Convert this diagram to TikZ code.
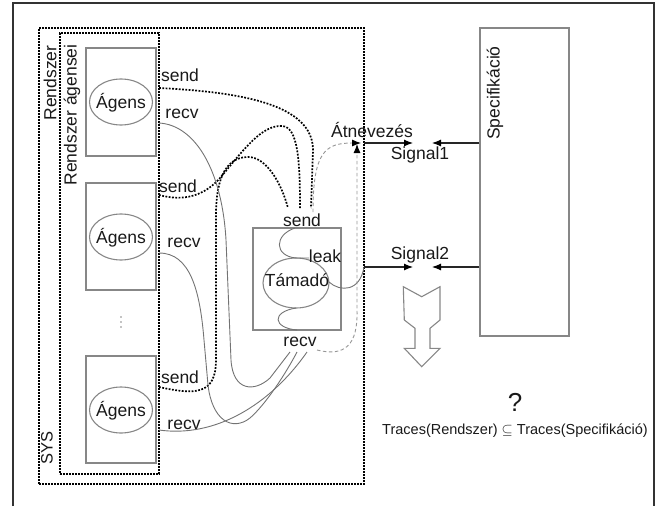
\documentclass[tikz,border=0pt]{standalone}
\usepackage{fontspec}
\setmainfont{Liberation Sans}
\usetikzlibrary{arrows.meta,shapes.geometric}
\definecolor{boxgray}{RGB}{135,135,135}
\definecolor{linegray}{RGB}{115,115,115}
\definecolor{dashgray}{RGB}{150,150,150}
\definecolor{txt}{RGB}{25,25,25}
\begin{document}
\begin{tikzpicture}[x=1pt,y=-1pt,
  lbl/.style={font=\fontsize{17.5}{20}\selectfont, text=txt, inner sep=0pt},
  gbox/.style={draw=boxgray, line width=1.1pt, inner sep=0pt},
  gell/.style={ellipse, draw=boxgray, line width=1.1pt, inner sep=0pt},
  dotbound/.style={draw=black, line width=1.1pt, dash pattern=on 1.6pt off 1.4pt},
  sendline/.style={draw=black, line width=1.7pt, dash pattern=on 1.8pt off 1.5pt},
  recvline/.style={draw=linegray, line width=0.9pt},
  dashline/.style={draw=dashgray, line width=0.9pt, dash pattern=on 3.5pt off 2.5pt},
  tip/.style={-{Latex[length=9pt,width=7pt,color=black]}},
  sigline/.style={draw=black!85, line width=1.1pt},
  dotmark/.style={circle, fill=boxgray, inner sep=0pt, minimum size=1.6pt}]
\useasboundingbox (0,0) rectangle (663,506);
% outer frame
\draw[black!80, line width=1.2pt] (13,506) -- (13,3) -- (654,3) -- (654,506);
% boundaries
\node[dotbound, minimum width=325pt, minimum height=456pt, inner sep=0pt] (sys) at (201.5,256) {};
\node[dotbound, minimum width=99pt, minimum height=441pt, inner sep=0pt] (ag) at (109.5,253.5) {};
\node[lbl, rotate=90] (lrend) at (50,83) {Rendszer};
\node[lbl, rotate=90] (lag) at (72,115) {Rendszer ágensei};
\node[lbl, rotate=90, font=\fontsize{16.5}{19}\selectfont] (lsys) at (47,448) {SYS};
% agents
\node[gbox, minimum width=70pt, minimum height=108pt] (a1) at (121,102) {};
\node[gbox, minimum width=70pt, minimum height=107pt] (a2) at (121,236.5) {};
\node[gbox, minimum width=70pt, minimum height=107pt] (a3) at (121,409.5) {};
\node[gell, minimum width=63pt, minimum height=46pt] (e1) at (121,102) {};
\node[gell, minimum width=63pt, minimum height=46pt] (e2) at (121,237) {};
\node[gell, minimum width=63pt, minimum height=46pt] (e3) at (121,410) {};
\node[lbl] (t1) at (121,103) {Ágens};
\node[lbl] (t2) at (121,238) {Ágens};
\node[lbl] (t3) at (121,411) {Ágens};
\node[dotmark] (d1) at (121,317) {};
\node[dotmark] (d2) at (121,322) {};
\node[dotmark] (d3) at (121,327) {};
% agent port labels
\node[lbl] (s1) at (180,75) {send};
\node[lbl] (r1) at (182,114) {recv};
\node[lbl] (s2) at (178,186) {send};
\node[lbl] (r2) at (184,243) {recv};
\node[lbl] (s3) at (180,377) {send};
\node[lbl] (r3) at (184,425) {recv};
% attacker
\node[gbox, minimum width=88pt, minimum height=102pt] (tam) at (297,279) {};
\node[gell, minimum width=66pt, minimum height=50pt] (te) at (296,283) {};
\node[lbl] (tt) at (297,280) {Támadó};
\node[lbl] (ts) at (302,220) {send};
\node[lbl] (tr) at (300,342) {recv};
\node[lbl] (tl) at (325,256) {leak};
\draw[linegray, line width=0.9pt] (295,228) .. controls (274,235) and (274,256) .. (296,258) -- (309,258);
\draw[linegray, line width=0.9pt] (296,308) .. controls (271,312) and (273,328) .. (297,330);
% specification
\node[gbox, minimum width=89pt, minimum height=308pt] (spec) at (524.5,182) {};
\node[lbl, rotate=90] (lspec) at (495,93) {Specifikáció};
% coordinates of connector ends
\coordinate (s1o) at (159,88);
\coordinate (s2o) at (159,195);
\coordinate (s3o) at (159,387);
\coordinate (r1o) at (159,123);
\coordinate (r2o) at (159,253);
\coordinate (r3o) at (159,430);
\coordinate (ts1) at (311,208);
\coordinate (ts2) at (300,208);
\coordinate (ts3) at (288,208);
\coordinate (tr1) at (290,352);
\coordinate (tr2) at (297,352);
\coordinate (tr3) at (307,352);
\coordinate (sig1o) at (364,143);
\coordinate (sig2o) at (364,267);
\coordinate (sig1a) at (413,143);
\coordinate (sig1b) at (432,143);
\coordinate (sig2a) at (413,267);
\coordinate (sig2b) at (432,267);
\coordinate (ren1) at (361,143);
\coordinate (ren2) at (357,144);
\coordinate (leako) at (329,282);
\coordinate (dsend) at (313,212);
\coordinate (drecv) at (317,350);
% send lines (dotted)
\draw[sendline] (s1o) .. controls (240,92) and (313,104) .. (313,150) -- (ts1);
\draw[sendline] (s2o) .. controls (185,202) and (205,195) .. (220,178)
  .. controls (245,148) and (262,125) .. (282,126)
  .. controls (298,127) and (300,160) .. (ts2);
\draw[sendline] (s3o) .. controls (195,395) and (216,395) .. (216,360) -- (216,215)
  .. controls (216,175) and (228,157) .. (248,157)
  .. controls (266,157) and (281,182) .. (ts3);
% recv lines
\draw[recvline] (r1o) .. controls (195,125) and (222,170) .. (226,240) -- (231,360)
  .. controls (233,392) and (255,392) .. (270,378) -- (tr1);
\draw[recvline] (r2o) .. controls (190,253) and (200,290) .. (204,340) -- (208,385)
  .. controls (212,420) and (232,432) .. (250,418) .. controls (265,405) and (285,375) .. (tr2);
\draw[recvline] (r3o) .. controls (215,438) and (270,405) .. (tr3);
% leak
\draw[recvline] (leako) .. controls (340,292) and (360,292) .. (sig2o);
% renaming (dashed)
\draw[dashline, tip] (dsend) .. controls (313,152) and (325,143) .. (ren1);
\draw[dashline, tip] (drecv) .. controls (345,357) and (358,345) .. (357,310) -- (ren2);
% signals
\draw[sigline, tip] (sig1o) -- (sig1a);
\draw[sigline, tip] (spec.west |- sig1o) -- (sig1b);
\draw[sigline, tip] (sig2o) -- (sig2a);
\draw[sigline, tip] (spec.west |- sig2o) -- (sig2b);
\node[lbl] (lat) at (372,130) {Átnevezés};
\node[lbl] (lsig1) at (420,155) {Signal1};
\node[lbl] (lsig2) at (420,255) {Signal2};
% block arrow
\draw[boxgray, line width=1.1pt] (403.3,286.7) -- (421.7,296.7) -- (440,286.7) -- (440,320) -- (430,328.3) -- (430,348.3) -- (440,348.3) -- (421.7,366.7) -- (404.3,348.3) -- (415,348.3) -- (415,328.3) -- (404.3,320) -- cycle;
% question
\node[lbl, font=\fontsize{26}{30}\selectfont] (q) at (515,402) {?};
\node[lbl, font=\fontsize{14.5}{17}\selectfont] (trc) at (515,431) {Traces(Rendszer) $\subseteq$ Traces(Specifikáció)};
\end{tikzpicture}
\end{document}
